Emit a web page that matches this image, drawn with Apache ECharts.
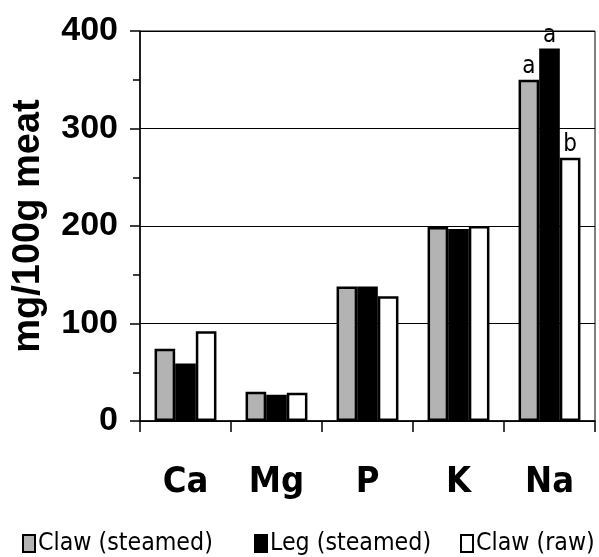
<!DOCTYPE html>
<html>
<head>
<meta charset="utf-8">
<script src="https://cdn.jsdelivr.net/npm/echarts@6/dist/echarts.min.js"></script>
<style>
html,body{margin:0;padding:0;background:#fff;}
#chart{width:599px;height:557px;}
</style>
</head>
<body>
<div id="chart"></div>
<script>
var categories = ['Ca', 'Mg', 'P', 'K', 'Na'];
var seriesNames = ['Claw (steamed)', 'Leg (steamed)', 'Claw (raw)'];
var clawSteamed = [74, 30, 138, 199, 350];
var legSteamed = [59, 27, 138, 197, 382];
var clawRaw = [92, 29, 128, 200, 270];
var naLetters = ['a', 'a', 'b'];
var yTicks = [0, 100, 200, 300, 400];

var colors = ['#b3b3b3', '#000000', '#ffffff'];
var allValues = [clawSteamed, legSteamed, clawRaw];
var NARROW = '"DejaVu Sans Condensed", "Liberation Sans Narrow", "Liberation Sans", Arial, sans-serif';
var ARIAL = '"Liberation Sans", Arial, sans-serif';

var series = allValues.map(function (vals, si) {
  return {
    name: seriesNames[si],
    type: 'bar',
    barGap: '0%',
    barCategoryGap: '32%',
    itemStyle: { color: colors[si], borderColor: '#000', borderWidth: 2.5 },
    data: vals.map(function (v, ci) {
      var d = { value: v };
      if (ci === categories.length - 1) {
        d.label = {
          show: true, position: 'top', distance: 1, formatter: naLetters[si],
          color: '#000', fontFamily: NARROW, fontSize: 24
        };
      }
      return d;
    })
  };
});

var legendLefts = [22, 254, 460];
var legends = seriesNames.map(function (n, i) {
  return {
    data: [n], left: legendLefts[i], top: 531, padding: 0,
    icon: 'rect', itemWidth: 12, itemHeight: 17,
    selectedMode: false,
    textStyle: { fontFamily: NARROW, fontSize: 24.7, color: '#000', padding: [0, 0, 0, -2] }
  };
});

var chart = echarts.init(document.getElementById('chart'), null, { renderer: 'canvas' });
chart.setOption({
  animation: false,
  backgroundColor: '#fff',
  legend: legends,
  grid: { left: 140, right: 4, top: 31, bottom: 136, show: true, borderColor: '#000', borderWidth: 1,
          containLabel: false, outerBoundsMode: 'none' },
  xAxis: {
    type: 'category',
    data: categories,
    axisLine: { lineStyle: { color: '#000', width: 1.5 } },
    axisTick: { show: true, length: 11, lineStyle: { color: '#000', width: 1.5 } },
    axisLabel: { color: '#000', fontFamily: NARROW, fontWeight: 'bold', fontSize: 36, margin: 44 }
  },
  yAxis: {
    type: 'value',
    min: yTicks[0], max: yTicks[yTicks.length - 1], interval: 100,
    name: 'mg/100g meat',
    nameLocation: 'middle',
    nameRotate: 90,
    nameGap: 92,
    nameTextStyle: { color: '#000', fontFamily: ARIAL, fontWeight: 'bold', fontSize: 38 },
    axisLine: { show: true, lineStyle: { color: '#000', width: 1.5 } },
    axisTick: { show: true, length: 10, lineStyle: { color: '#000', width: 1.5 } },
    minorTick: { show: true, splitNumber: 2, length: 7, lineStyle: { color: '#000', width: 1.5 } },
    splitLine: { show: true, lineStyle: { color: '#000', width: 1 } },
    axisLabel: { color: '#000', fontFamily: ARIAL, fontWeight: 'bold', fontSize: 34, margin: 22 }
  },
  series: series
});
</script>
</body>
</html>
